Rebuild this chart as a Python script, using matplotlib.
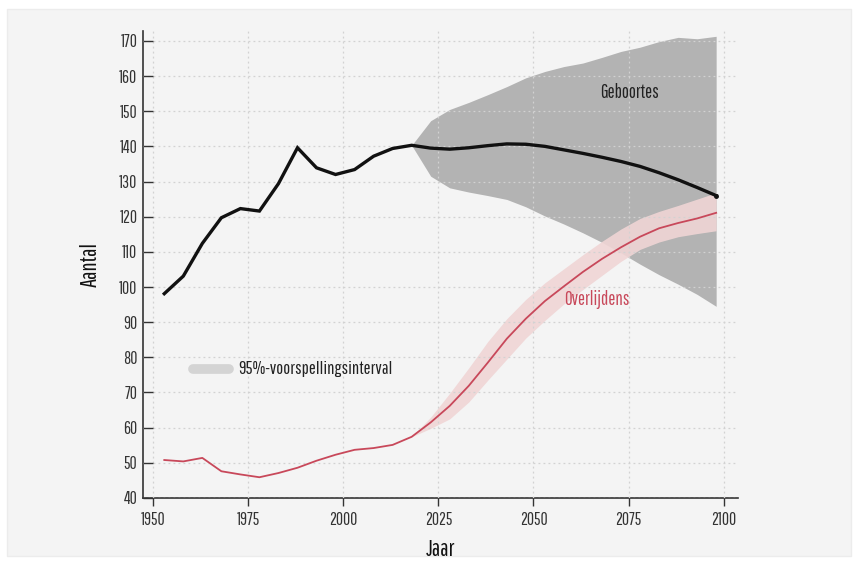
import matplotlib
matplotlib.use("Agg")
import matplotlib.pyplot as plt
from matplotlib.patches import Rectangle
import numpy as np

plt.rcParams['font.family'] = ['Pathway Gothic One', 'Barlow Condensed', 'DejaVu Sans']

# historical data (every 5 years)
hist_years = [1953, 1958, 1963, 1968, 1973, 1978, 1983, 1988, 1993, 1998, 2003, 2008, 2013, 2018]
births_hist = [98.1, 103.1, 112.4, 119.7, 122.3, 121.6, 129.4, 139.6, 133.9, 132.0, 133.4, 137.2, 139.4, 140.3]
deaths_hist = [50.8, 50.4, 51.4, 47.6, 46.7, 45.9, 47.1, 48.6, 50.6, 52.3, 53.7, 54.2, 55.1, 57.4]

# projections
proj_years = [2018, 2023, 2028, 2033, 2038, 2043, 2048, 2053, 2058, 2063, 2068, 2073, 2078, 2083, 2088, 2093, 2098]
births_proj = [140.3, 139.5, 139.2, 139.6, 140.2, 140.7, 140.6, 140.0, 139.0, 138.0, 136.9, 135.7, 134.3, 132.5, 130.5, 128.3, 126.0]
births_hi = [140.3, 147.3, 150.5, 152.5, 154.7, 157.0, 159.5, 161.3, 162.7, 163.7, 165.3, 167.0, 168.2, 169.8, 171.0, 170.6, 171.3]
births_lo = [140.3, 131.5, 128.2, 127.0, 126.0, 124.9, 122.8, 120.2, 117.9, 115.4, 112.7, 109.7, 106.5, 103.5, 100.8, 97.9, 94.5]
deaths_proj = [57.4, 61.5, 66.2, 71.9, 78.5, 85.3, 91.0, 96.0, 100.2, 104.3, 108.0, 111.3, 114.3, 116.7, 118.2, 119.5, 121.1]
deaths_hi = [57.4, 63.0, 69.8, 77.0, 84.5, 91.0, 96.5, 101.2, 105.2, 109.2, 113.0, 116.5, 119.5, 121.5, 123.2, 125.0, 126.8]
deaths_lo = [57.4, 59.8, 62.5, 67.3, 73.5, 79.5, 85.5, 90.5, 95.2, 99.3, 103.3, 107.3, 110.7, 112.8, 114.3, 115.2, 116.0]

x_ticks = [1950, 1975, 2000, 2025, 2050, 2075, 2100]
y_ticks = list(range(40, 171, 10))

black = '#111111'
red = '#c8485a'

fig = plt.figure(figsize=(8.54, 5.62), dpi=100, facecolor='white')
# light panel behind the chart
panel = Rectangle((0.008, 0.011), 0.989, 0.973, transform=fig.transFigure,
                  facecolor='#f4f4f4', edgecolor='#ececec', lw=1, zorder=-10)
fig.patches.append(panel)
ax = fig.add_axes([0.1674, 0.1139, 0.6966, 0.8309])
ax.set_facecolor('none')

# bands
ax.fill_between(proj_years, births_lo, births_hi, color='#b3b3b3', lw=0, zorder=1)
ax.fill_between(proj_years, deaths_lo, deaths_hi, color='#f0d5d5', alpha=0.9, lw=0, zorder=2)

# grid on top of the bands
ax.grid(True, color='#d2d2d2', linestyle=(0, (1.5, 2.5)), lw=0.9, zorder=3)
ax.set_axisbelow(False)

# lines
ax.plot(hist_years + proj_years[1:], births_hist + births_proj[1:], color=black, lw=2.4,
        solid_joinstyle='miter', zorder=5)
ax.plot(proj_years[-1:], births_proj[-1:], 'o', color=black, ms=2.5, zorder=5)
ax.plot(hist_years + proj_years[1:], deaths_hist + deaths_proj[1:], color=red, lw=1.3, zorder=4)

# annotations
ax.text(2075.3, 155.2, 'Geboortes', color='#222222', fontsize=13.5, ha='center', va='center', zorder=6)
ax.text(2066.6, 96.5, 'Overlijdens', color=red, fontsize=13.5, ha='center', va='center', zorder=6)

# legend swatch
ax.plot([1960.5, 1970], [76.7, 76.7], color='#d4d4d4', lw=7, solid_capstyle='round', zorder=6)
ax.text(1972.4, 76.7, '95%-voorspellingsinterval', color='#222222', fontsize=13.3,
        ha='left', va='center', zorder=6)

ax.set_xlim(1947.4, 2103.7)
ax.set_ylim(40, 172.8)
ax.set_xticks(x_ticks)
ax.set_yticks(y_ticks)
ax.tick_params(axis='y', direction='in', length=7, width=1, color='#333333', labelsize=12.5,
               labelcolor='#333333', pad=4)
ax.tick_params(axis='x', direction='out', length=6, width=1, color='#333333', labelsize=12.5,
               labelcolor='#333333', pad=4)

for s in ['top', 'right']:
    ax.spines[s].set_visible(False)
for s in ['left', 'bottom']:
    ax.spines[s].set_color('#333333')
    ax.spines[s].set_linewidth(1.2)

ax.set_xlabel('Jaar', fontsize=16.5, color='#111111', labelpad=8)
ax.set_ylabel('Aantal', fontsize=16.5, color='#111111', labelpad=13)

fig.savefig('out.png', dpi=100, facecolor='white')
